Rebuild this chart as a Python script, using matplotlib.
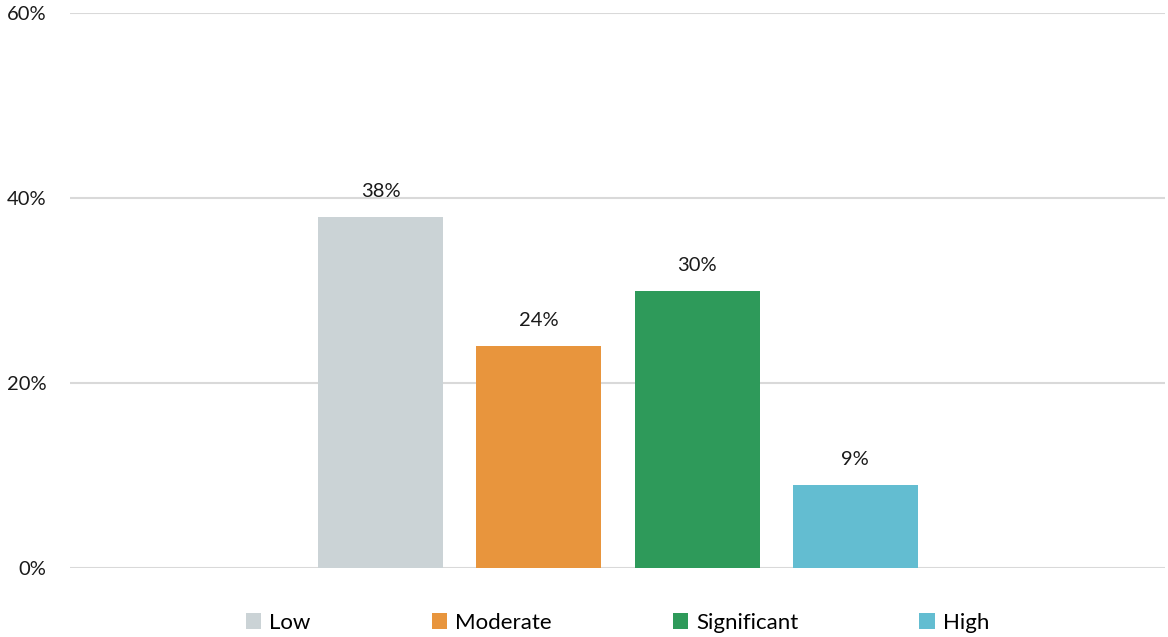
import numpy as np
import matplotlib.pyplot as plt

# risk level shares (%)
levels = ["Low", "Moderate", "Significant", "High"]
shares = [38, 24, 30, 9]
colors = ["#cbd3d6", "#e8953d", "#2e9a5a", "#63bdd1"]
yticks = [0, 20, 40, 60]

plt.rcParams['font.family'] = ['Lato', 'DejaVu Sans']

fig = plt.figure(figsize=(11.68, 6.37), dpi=100)
ax = fig.add_axes([70 / 1168, 1 - 568 / 637, 1095 / 1168, 555 / 637])

x = np.arange(len(levels))
bars = ax.bar(x, shares, width=0.79, color=colors, label=levels, zorder=2)
for xi, v in zip(x, shares):
    ax.text(xi, v + 1.8, f"{v}%", ha="center", va="bottom", fontsize=14.5, color="#1a1a1a")

ax.set_xlim(-1.965, 4.959)
ax.set_ylim(0, 60)
ax.set_yticks(yticks)
ax.set_yticklabels([f"{t}%" for t in yticks], fontsize=14.5, color="#1a1a1a")
ax.tick_params(axis="y", length=0, pad=17)
ax.set_xticks([])
ax.grid(axis="y", color="#d9d9d9", linewidth=1.5, zorder=0)
for s in ax.spines.values():
    s.set_visible(False)

ax.legend(handles=bars, labels=levels, loc="upper center", bbox_to_anchor=(0.5, -0.045),
          ncol=4, frameon=False, fontsize=16, handlelength=0.7, handleheight=0.7,
          handletextpad=0.35, columnspacing=5.45)

fig.savefig("out.png", dpi=100)
